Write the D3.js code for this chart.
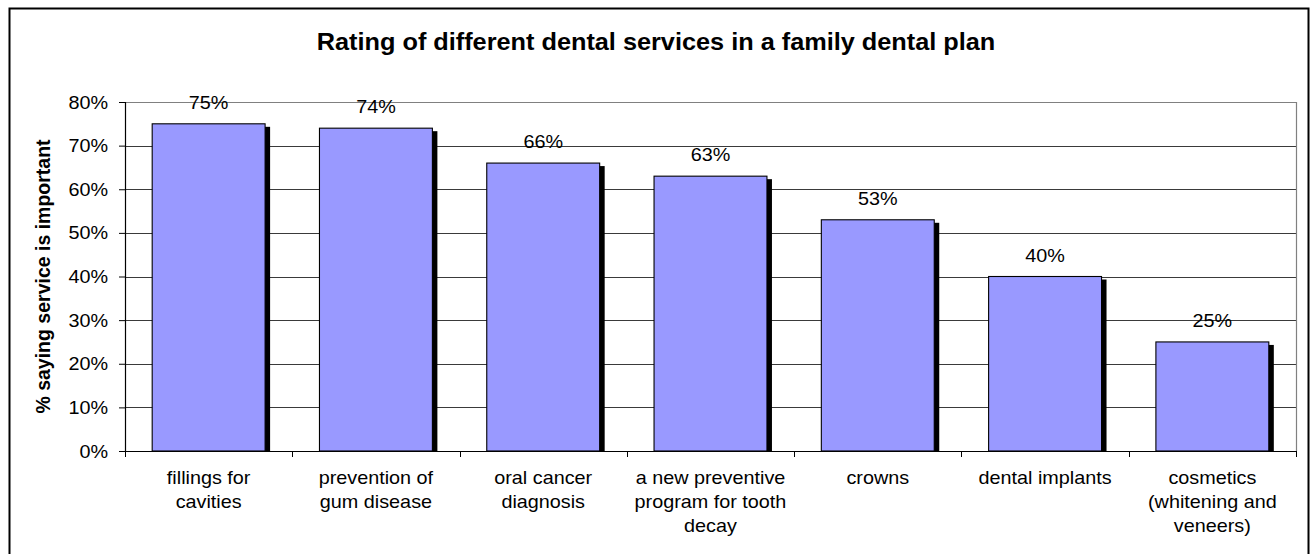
<!DOCTYPE html>
<html>
<head>
<meta charset="utf-8">
<script src="https://cdn.jsdelivr.net/npm/d3@7"></script>
<style>
  html, body { margin: 0; padding: 0; background: #fff; }
  svg { display: block; font-family: Arial, "Liberation Sans", sans-serif; }
</style>
</head>
<body>
<svg id="chart" width="1312" height="554"></svg>
<script>
// Survey results: share of respondents rating each service as important
const categories = [
  ["fillings for", "cavities"],
  ["prevention of", "gum disease"],
  ["oral cancer", "diagnosis"],
  ["a new preventive", "program for tooth", "decay"],
  ["crowns"],
  ["dental implants"],
  ["cosmetics", "(whitening and", "veneers)"]
];
const values = [75, 74, 66, 63, 53, 40, 25];
const yTicks = [0, 10, 20, 30, 40, 50, 60, 70, 80];
const chartTitle = "Rating of different dental services in a family dental plan";
const yTitle = "% saying service is important";

const svg = d3.select("#chart");
const plot = { left: 125, right: 1296, top: 102, bottom: 451 };
const sx = 1.1; // horizontal text stretch

// outer frame
svg.append("rect")
  .attr("x", 9.5).attr("y", 8.5)
  .attr("width", 1299).attr("height", 600)
  .attr("fill", "#fff").attr("stroke", "#000").attr("stroke-width", 2);

const x = d3.scaleBand()
  .domain(d3.range(values.length))
  .range([plot.left, plot.right])
  .paddingInner(0.325)
  .paddingOuter(0.1625);

const y = d3.scaleLinear().domain([0, 80]).range([plot.bottom, plot.top]);

function stretchedText(g, tx, ty) {
  return g.append("text")
    .attr("transform", `translate(${tx},${ty}) scale(${sx},1)`);
}

// title
stretchedText(svg, 656, 50)
  .attr("text-anchor", "middle")
  .attr("font-size", 23).attr("font-weight", "bold")
  .text(chartTitle);

// gridlines
svg.append("g")
  .selectAll("line")
  .data(yTicks.filter(t => t > 0 && t < 80))
  .join("line")
  .attr("x1", plot.left).attr("x2", plot.right)
  .attr("y1", d => Math.round(y(d)) + 0.5).attr("y2", d => Math.round(y(d)) + 0.5)
  .attr("stroke", "#3a3a3a").attr("stroke-width", 1);

// plot border (top & right)
svg.append("path")
  .attr("d", `M${plot.left},${Math.round(y(80)) + 0.5}H${plot.right + 0.5}V${plot.bottom}`)
  .attr("fill", "none").attr("stroke", "#808080").attr("stroke-width", 1.2);

// clip for shadows
svg.append("clipPath").attr("id", "plotclip")
  .append("rect")
  .attr("x", plot.left).attr("y", plot.top - 20)
  .attr("width", plot.right - plot.left).attr("height", plot.bottom - plot.top + 20);

const bars = svg.append("g");
bars.append("g").attr("clip-path", "url(#plotclip)")
  .selectAll("rect")
  .data(values)
  .join("rect")
  .attr("x", (d, i) => x(i) + 5)
  .attr("y", d => y(d) + 3)
  .attr("width", x.bandwidth())
  .attr("height", d => plot.bottom - y(d))
  .attr("fill", "#000");

bars.append("g")
  .selectAll("rect")
  .data(values)
  .join("rect")
  .attr("x", (d, i) => x(i))
  .attr("y", d => y(d))
  .attr("width", x.bandwidth())
  .attr("height", d => plot.bottom - y(d))
  .attr("fill", "#9999ff")
  .attr("stroke", "#000").attr("stroke-width", 1.1);

// value labels
const lab = svg.append("g");
values.forEach((v, i) => {
  stretchedText(lab, x(i) + x.bandwidth() / 2, y(v) - 15)
    .attr("text-anchor", "middle").attr("font-size", 18)
    .text(v + "%");
});

// y axis
const yAxis = svg.append("g")
  .attr("transform", `translate(${plot.left},0)`)
  .call(d3.axisLeft(y).tickValues(yTicks).tickSize(6).tickPadding(0).tickFormat(d => d + "%"));
yAxis.select(".domain").attr("stroke", "#000").attr("stroke-width", 1.2);
yAxis.selectAll(".tick line").attr("stroke", "#000");
yAxis.selectAll(".tick text").remove();
yTicks.forEach(t => {
  stretchedText(yAxis, -17, y(t) + 6.5)
    .attr("text-anchor", "end").attr("font-size", 18).attr("fill", "#000")
    .attr("font-family", "Arial, 'Liberation Sans', sans-serif")
    .text(t + "%");
});

// x axis
const xAxis = svg.append("g").attr("transform", `translate(0,${plot.bottom})`);
xAxis.append("line")
  .attr("x1", plot.left).attr("x2", plot.right + 0.5)
  .attr("y1", 0.5).attr("y2", 0.5)
  .attr("stroke", "#000").attr("stroke-width", 1.2);
const step = x.step();
xAxis.selectAll("line.tick")
  .data(d3.range(values.length + 1))
  .join("line").attr("class", "tick")
  .attr("x1", i => Math.round(plot.left + i * step) + 0.5)
  .attr("x2", i => Math.round(plot.left + i * step) + 0.5)
  .attr("y1", 0).attr("y2", 6)
  .attr("stroke", "#000");

categories.forEach((lines, i) => {
  const cx = x(i) + x.bandwidth() / 2;
  lines.forEach((ln, j) => {
    stretchedText(xAxis, cx, 33 + j * 24)
      .attr("text-anchor", "middle").attr("font-size", 18)
      .text(ln);
  });
});

// y axis title
svg.append("text")
  .attr("transform", `translate(50,${(plot.top + plot.bottom) / 2}) rotate(-90)`)
  .attr("text-anchor", "middle")
  .attr("font-size", 19.5).attr("font-weight", "bold")
  .text(yTitle);
</script>
</body>
</html>
